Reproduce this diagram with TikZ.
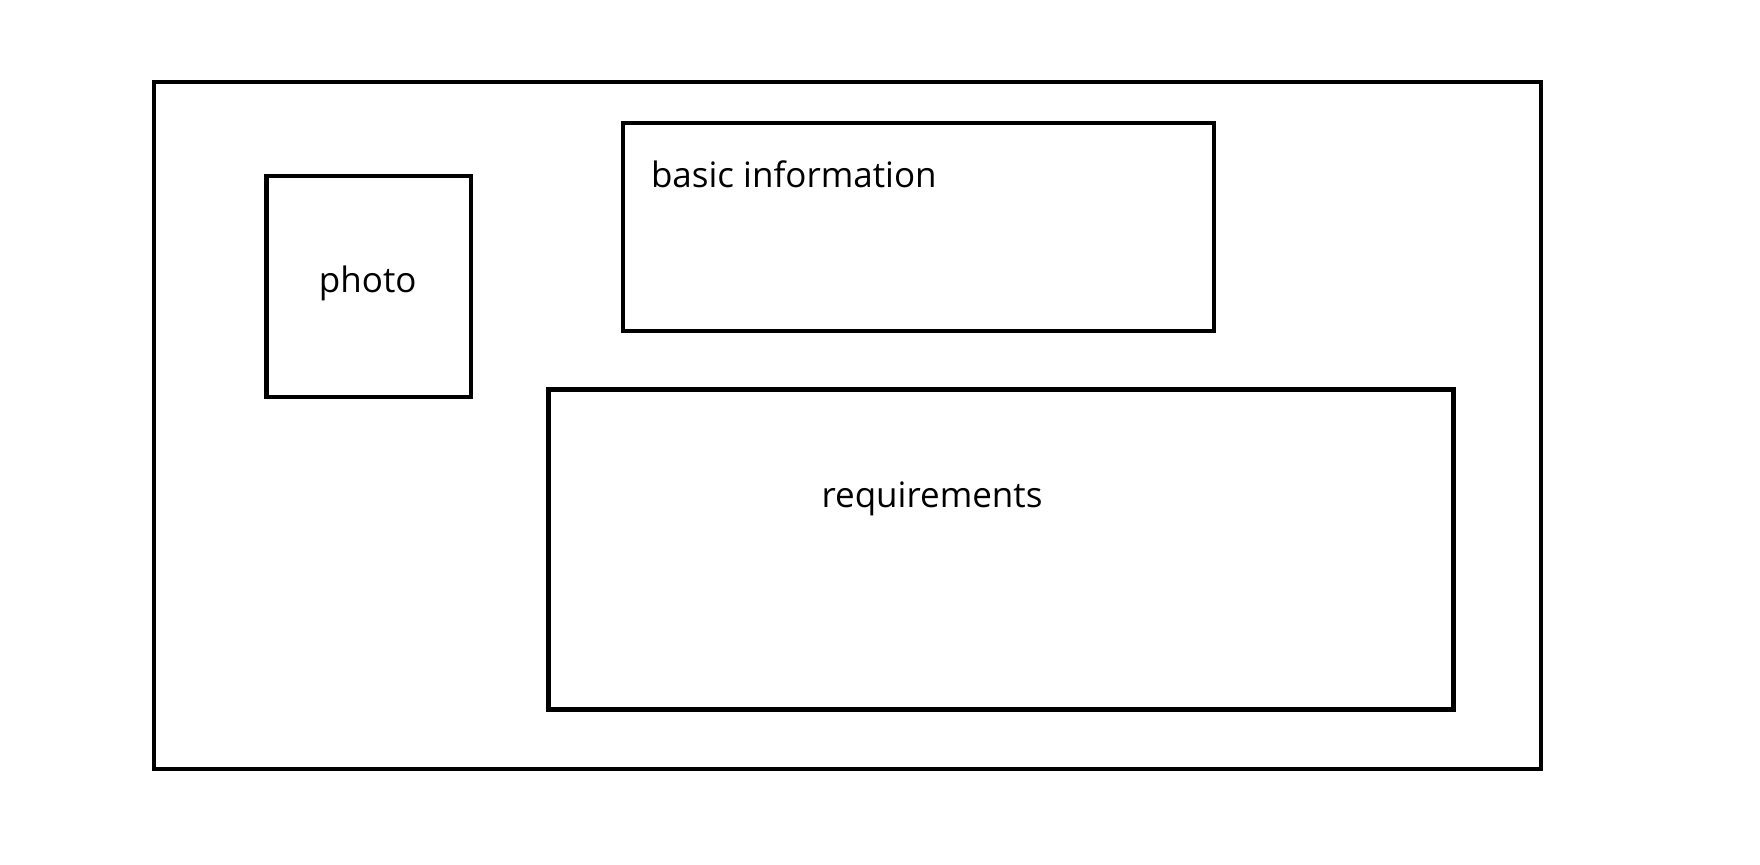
\documentclass[tikz,border=0pt]{standalone}
\usepackage{fontspec}
\setmainfont{Open Sans}
\begin{document}
\begin{tikzpicture}[x=0.5pt,y=-0.5pt,
  box/.style={draw=black, line width=2.4pt, rectangle, inner sep=0pt, outer sep=0pt},
  lbl/.style={inner sep=0pt, outer sep=0pt, font=\fontsize{17.5pt}{21pt}\selectfont}]
\useasboundingbox[fill=white] (0,0) rectangle (1760,864);
\node[box, minimum width=693.5pt, minimum height=343.5pt] (outer) at (847.5,425.5) {};
\node[box, minimum width=102.25pt, minimum height=110.5pt] (photo) at (368.75,286.5) {};
\node[box, minimum width=295.5pt, minimum height=104pt] (basic) at (918.5,227) {};
\node[box, minimum width=452.25pt, minimum height=160pt] (req) at (1001,549.5) {};
\node[lbl, anchor=base] (tphoto) at (367.7,292) {photo};
\node[lbl, anchor=base west] (tbasic) at (651,187) {basic information};
\node[lbl, anchor=base] (treq) at (932,507) {requirements};
\end{tikzpicture}
\end{document}
